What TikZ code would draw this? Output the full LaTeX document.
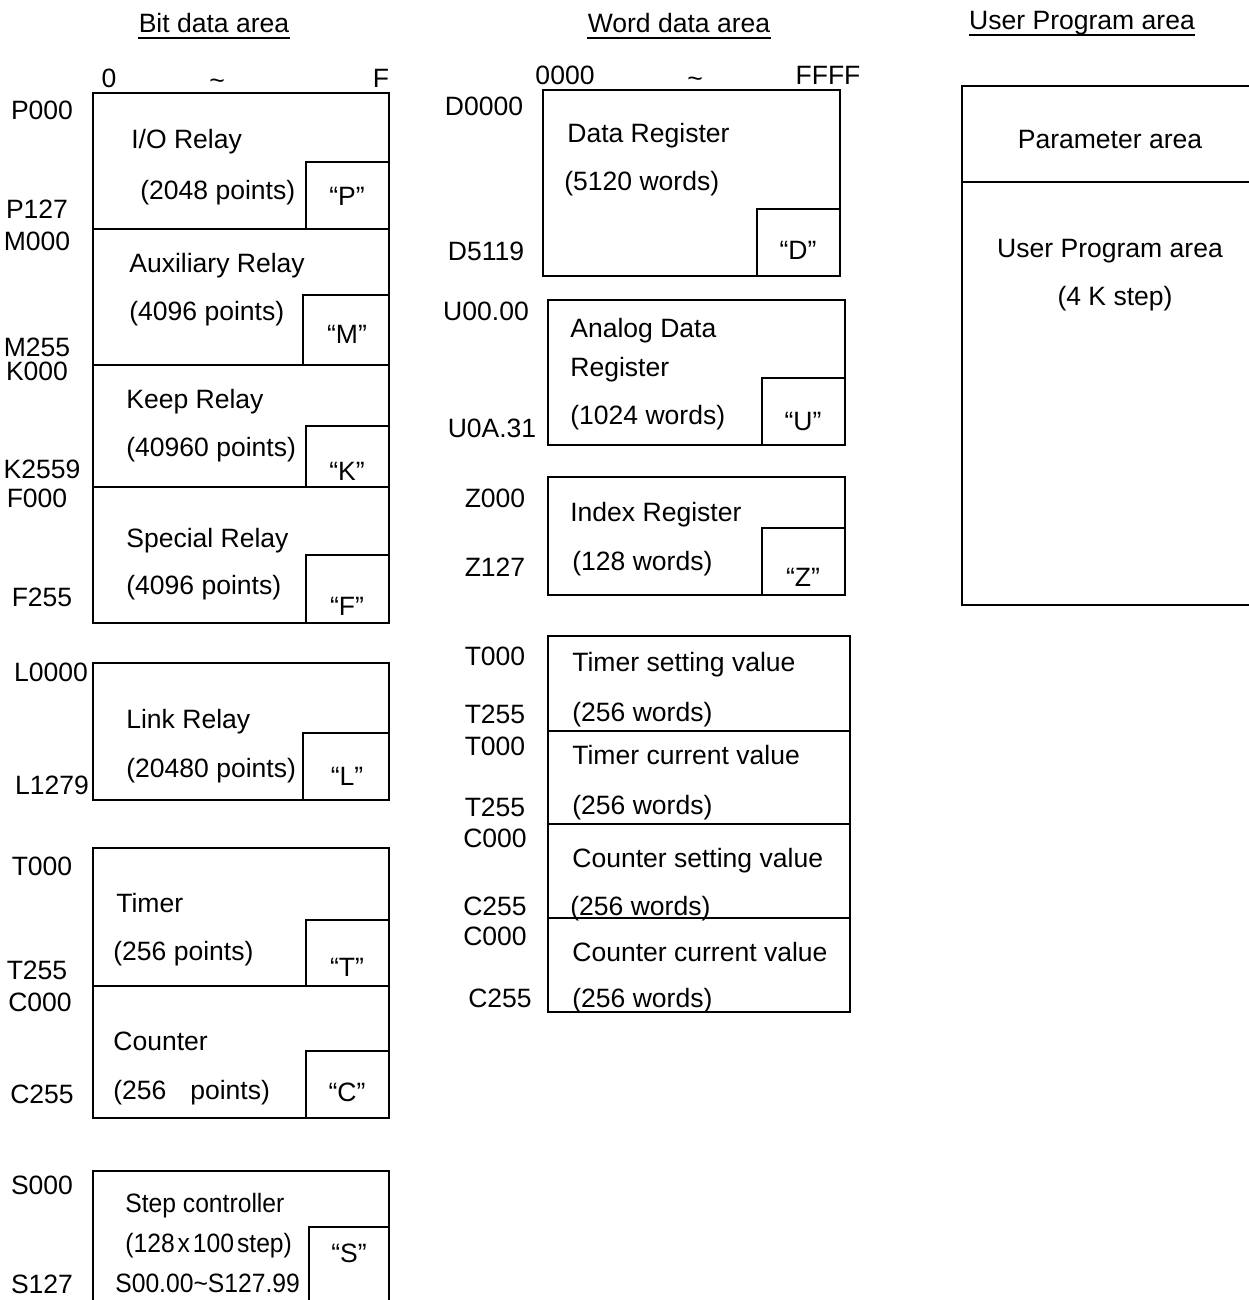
\documentclass[tikz,border=0pt]{standalone}
\usepackage{fontspec}
\setmainfont{Liberation Sans}
\usepackage{graphicx}
\newcommand{\mfont}{\fontsize{15.1}{18}\selectfont}
\newcommand{\narrow}[1]{\scalebox{0.93}[1]{#1}}
\tikzset{
  area/.style={draw, line width=1.1pt},
  addr/.style={font=\mfont, inner sep=0pt, text height=10.8pt, text depth=0pt},
  txt/.style={font=\mfont, anchor=west, inner sep=0pt, text height=10.8pt, text depth=0pt},
  tag/.style={font=\mfont, inner sep=0pt, text height=10.8pt, text depth=0pt},
  head/.style={font=\mfont, anchor=base, inner sep=0pt},
  uline/.style={line width=0.9pt},
}

\begin{document}
\begin{tikzpicture}[x=0.02cm, y=-0.02cm]
  \useasboundingbox (0,0) rectangle (1248,1300);

  % Headings
  \node[head] (hbit) at (214,33) {Bit data area};
  \node[head] (hword) at (679,33) {Word data area};
  \node[head] (huser) at (1082,30) {User Program area};
  \draw[uline] ([yshift=-3pt]hbit.base west) -- ([yshift=-3pt]hbit.base east);
  \draw[uline] ([yshift=-3pt]hword.base west) -- ([yshift=-3pt]hword.base east);
  \draw[uline] ([yshift=-3pt]huser.base west) -- ([yshift=-3pt]huser.base east);

  % Bit data area -- column scale
  \node[addr] (b0) at (109,78) {0};
  \node[addr] (btl) at (217,80) {\char`~};
  \node[addr] (bF) at (381,78) {F};

  % I/O relay
  \draw[area] (93,93) rectangle (389,229);
  \draw[area] (306,162) rectangle (389,229);
  \node[addr] (p0) at (42,110) {P000};
  \node[addr] (p1) at (37,209) {P127};
  \node[txt] (io1) at (131,139) {I/O Relay};
  \node[txt] (io2) at (140,190) {(2048 points)};
  \node[tag] (tp) at (347,196) {“P”};

  % Auxiliary relay
  \draw[area] (93,229) rectangle (389,365);
  \draw[area] (303,295) rectangle (389,365);
  \node[addr] (m0) at (37,241) {M000};
  \node[addr] (m1) at (37,347) {M255};
  \node[txt] (aux1) at (129,263) {Auxiliary Relay};
  \node[txt] (aux2) at (129,311) {(4096 points)};
  \node[tag] (tm) at (347,334) {“M”};

  % Keep relay
  \draw[area] (93,365) rectangle (389,487);
  \draw[area] (306,426) rectangle (389,487);
  \node[addr] (k0) at (37,371) {K000};
  \node[addr] (k1) at (42,469) {K2559};
  \node[txt] (kp1) at (126,399) {Keep Relay};
  \node[txt] (kp2) at (126,447) {(40960 points)};
  \node[tag] (tk) at (347,471) {“K”};

  % Special relay
  \draw[area] (93,487) rectangle (389,623);
  \draw[area] (306,555) rectangle (389,623);
  \node[addr] (f0) at (37,498) {F000};
  \node[addr] (f1) at (42,597) {F255};
  \node[txt] (sp1) at (126,538) {Special Relay};
  \node[txt] (sp2) at (126,585) {(4096 points)};
  \node[tag] (tf) at (347,606) {“F”};

  % Link relay
  \draw[area] (93,663) rectangle (389,800);
  \draw[area] (303,733) rectangle (389,800);
  \node[addr] (l0) at (51,672) {L0000};
  \node[addr] (l1) at (52,785) {L1279};
  \node[txt] (lk1) at (126,719) {Link Relay};
  \node[txt] (lk2) at (126,768) {(20480 points)};
  \node[tag] (tl) at (347,776) {“L”};

  % Timer
  \draw[area] (93,848) rectangle (389,986);
  \draw[area] (306,920) rectangle (389,986);
  \node[addr] (t0) at (42,866) {T000};
  \node[addr] (t1) at (37,970) {T255};
  \node[txt] (tm1) at (116,903) {Timer};
  \node[txt] (tm2) at (113,951) {(256 points)};
  \node[tag] (tt) at (347,967) {“T”};

  % Counter
  \draw[area] (93,986) rectangle (389,1118);
  \draw[area] (306,1051) rectangle (389,1118);
  \node[addr] (c0) at (40,1002) {C000};
  \node[addr] (c1) at (42,1094) {C255};
  \node[txt] (ct1) at (113,1041) {Counter};
  \node[txt] (ct2) at (113,1090) {(256\hspace{0.9em}points)};
  \node[tag] (tc) at (347,1092) {“C”};

  % Step controller
  \draw[area] (93,1171) rectangle (389,1330);
  \draw[area] (309,1227) rectangle (389,1330);
  \node[addr] (s0) at (42,1185) {S000};
  \node[addr] (s1) at (42,1284) {S127};
  \node[txt] (st1) at (125,1203) {\narrow{Step controller}};
  \node[txt] (st2) at (125,1243) {\narrow{(128\hspace{0.12em}x\hspace{0.12em}100\hspace{0.12em}step)}};
  \node[txt] (st3) at (115,1283) {\narrow{S00.00\char`~S127.99}};
  \node[tag] (ts) at (349,1253) {“S”};

  % Word data area -- column scale
  \node[addr] (w0) at (565,75) {0000};
  \node[addr] (wtl) at (695,78) {\char`~};
  \node[addr] (wF) at (828,75) {FFFF};

  % Data register
  \draw[area] (543,90) rectangle (840,276);
  \draw[area] (757,209) rectangle (840,276);
  \node[addr] (d0) at (484,106) {D0000};
  \node[addr] (d1) at (486,251) {D5119};
  \node[txt] (dr1) at (567,133) {Data Register};
  \node[txt] (dr2) at (564,181) {(5120 words)};
  \node[tag] (td) at (798,250) {“D”};

  % Analog data register
  \draw[area] (548,300) rectangle (845,445);
  \draw[area] (762,378) rectangle (845,445);
  \node[addr] (u0) at (486,311) {U00.00};
  \node[addr] (u1) at (492,428) {U0A.31};
  \node[txt] (ad1) at (570,328) {Analog Data};
  \node[txt] (ad2) at (570,367) {Register};
  \node[txt] (ad3) at (570,415) {(1024 words)};
  \node[tag] (tu) at (803,421) {“U”};

  % Index register
  \draw[area] (548,477) rectangle (845,595);
  \draw[area] (762,528) rectangle (845,595);
  \node[addr] (z0) at (495,498) {Z000};
  \node[addr] (z1) at (495,567) {Z127};
  \node[txt] (ix1) at (570,512) {Index Register};
  \node[txt] (ix2) at (572,561) {(128 words)};
  \node[tag] (tz) at (803,577) {“Z”};

  % Timer / counter values
  \draw[area] (548,636) rectangle (850,731);
  \draw[area] (548,731) rectangle (850,824);
  \draw[area] (548,824) rectangle (850,918);
  \draw[area] (548,918) rectangle (850,1012);
  \node[addr] (ts0) at (495,656) {T000};
  \node[addr] (ts1) at (495,714) {T255};
  \node[addr] (tc0) at (495,746) {T000};
  \node[addr] (tc1) at (495,807) {T255};
  \node[addr] (cs0) at (495,838) {C000};
  \node[addr] (cs1) at (495,906) {C255};
  \node[addr] (cc0) at (495,936) {C000};
  \node[addr] (cc1) at (500,998) {C255};
  \node[txt] (tsv1) at (572,662) {Timer setting value};
  \node[txt] (tsv2) at (572,712) {(256 words)};
  \node[txt] (tcv1) at (572,755) {Timer current value};
  \node[txt] (tcv2) at (572,805) {(256 words)};
  \node[txt] (csv1) at (572,858) {Counter setting value};
  \node[txt] (csv2) at (570,906) {(256 words)};
  \node[txt] (ccv1) at (572,952) {Counter current value};
  \node[txt] (ccv2) at (572,998) {(256 words)};

  % User program area
  \draw[area] (962,86) rectangle (1270,605);
  \draw[area] (962,182) -- (1270,182);
  \node[addr] (par) at (1110,139) {Parameter area};
  \node[addr] (up1) at (1110,248) {User Program area};
  \node[addr] (up2) at (1115,296) {(4 K step)};
\end{tikzpicture}
\end{document}
